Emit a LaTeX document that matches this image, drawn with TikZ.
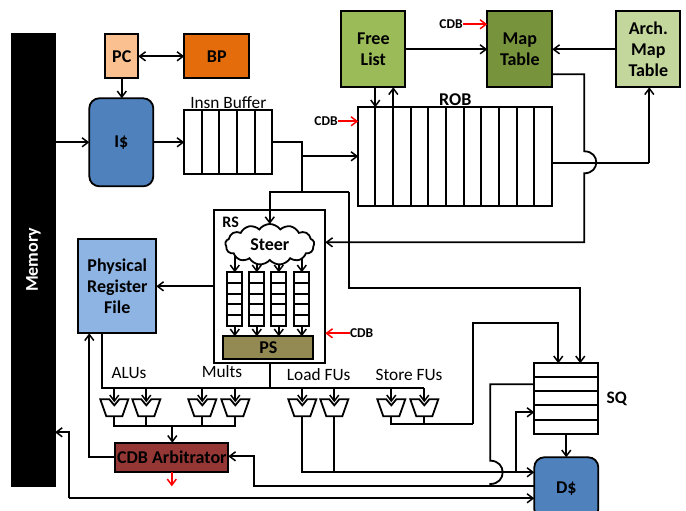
\documentclass[tikz,border=0pt]{standalone}
\usepackage{fontspec}
\setmainfont{Carlito}
\usepackage{tikz}
\usetikzlibrary{positioning,shapes,shapes.symbols,arrows.meta,calc,backgrounds}
\definecolor{pccolor}{HTML}{FAC090}
\definecolor{bpcolor}{HTML}{E46C0A}
\definecolor{cachecolor}{HTML}{4F81BD}
\definecolor{freecolor}{HTML}{9BBB59}
\definecolor{mapcolor}{HTML}{77933C}
\definecolor{archcolor}{HTML}{C3D69B}
\definecolor{pscolor}{HTML}{938953}
\definecolor{prfcolor}{HTML}{8EB4E3}
\definecolor{arbcolor}{HTML}{953735}

\begin{document}
\begin{tikzpicture}[x=1pt, y=-1pt]
\tikzset{
    block/.style={rectangle, draw=black, line width=1.8pt, inner sep=0pt, outer sep=0pt, align=center, font=\fontsize{18}{21}\selectfont\bfseries},
    wire/.style={line width=1.8pt},
    barb/.style={-{Straight Barb[length=6pt,width=9pt,line width=1.5pt]}},
    arrow/.style={wire, barb},
    redarrow/.style={line width=1.8pt, red, barb},
    cell/.style={line width=1.8pt},
    tag/.style={font=\fontsize{13.5}{16}\selectfont\bfseries, inner sep=0pt},
    title/.style={font=\fontsize{17.3}{20}\selectfont, inner sep=0pt},
    fu/.pic={
        \draw[line width=1.8pt, fill=white] (-14,0) -- (-5,0) -- (0,6) -- (5,0) -- (14,0) -- (8,17) -- (-8,17) -- cycle;
        \coordinate (-in) at (0,3);
        \coordinate (-out) at (0,17);
    }
}
\useasboundingbox (0,0) rectangle (686,511);

\node[block, fill=black, text=white, rotate=90, minimum width=452.5pt, minimum height=43pt] (memory) at (33.5,259.75) {Memory};
\node[block, fill=pccolor, minimum width=33pt, minimum height=44pt] (pc) at (121.8,56.3) {PC};
\node[block, fill=bpcolor, minimum width=65pt, minimum height=44pt] (bp) at (216.8,56.3) {BP};
\node[block, fill=cachecolor, rounded corners=10pt, minimum width=64pt, minimum height=88pt] (icache) at (121.3,142.3) {I\$};
\node[block, minimum width=88pt, minimum height=64pt] (buffer) at (228.3,142.3) {};
\node[title, above=1.5pt of buffer] (buffertitle) {Insn Buffer};
\node[block, minimum width=194pt, minimum height=99pt] (rob) at (455.3,156.8) {};
\node[title, font=\fontsize{18}{21}\selectfont\bfseries, above=1pt of rob] (robtitle) {ROB};
\node[block, fill=freecolor, minimum width=64pt, minimum height=76pt] (free) at (373.3,49.3) {Free\\List};
\node[block, fill=mapcolor, minimum width=65pt, minimum height=76pt] (map) at (519.8,49.3) {Map\\Table};
\node[block, fill=archcolor, minimum width=64pt, minimum height=76pt] (arch) at (648.3,49.3) {Arch.\\Map\\Table};
\node[tag] (cdbmap) at (451,24.3) {CDB};
\node[tag] (cdbrob) at (326,121.3) {CDB};
\node[tag] (cdbrs) at (361.7,333.3) {CDB};

\node[block, minimum width=111pt, minimum height=153pt] (rs) at (269.8,286.8) {};
\node[title, font=\fontsize{16}{19}\selectfont\bfseries] (rstitle) at (230.7,222) {RS};
\node[block, cloud, cloud puffs=13, cloud puff arc=110, aspect=2.2, fill=white, minimum width=89pt, minimum height=41pt] (steer) at (269.8,244.5) {Steer};
\foreach \n/\x in {qa/234.8, qb/256.8, qc/278.8, qd/301.8} {
    \node[block, minimum width=15pt, minimum height=54pt] (\n) at (\x,299.3) {};
    \foreach \y in {283.3,294.3,304.3,315.3}
        \draw[cell] (\n.west |- 0,\y) -- (\n.east |- 0,\y);
}
\node[block, fill=pscolor, minimum width=90pt, minimum height=23pt] (ps) at (268.3,347.8) {PS};
\node[block, fill=prfcolor, minimum width=78pt, minimum height=94pt] (prf) at (117.3,286.3) {Physical\\Register\\File};
\node[block, fill=arbcolor, minimum width=113pt, minimum height=29pt] (arbiter) at (171.8,457.3) {CDB Arbitrator};
\node[block, minimum width=64pt, minimum height=71pt] (sq) at (566.3,398.8) {};
\node[title, font=\fontsize{17.5}{20}\selectfont\bfseries, right=8pt of sq] (sqtitle) {SQ};
\node[block, fill=cachecolor, rounded corners=10pt, minimum width=64pt, minimum height=62pt] (dcache) at (566.3,488.3) {D\$};

\node[title] (alutitle) at (129,372.7) {ALUs};
\node[title] (multtitle) at (222,372) {Mults};
\node[title] (loadtitle) at (318.7,374.7) {Load FUs};
\node[title] (storetitle) at (409,374.7) {Store FUs};

\pic (alua) at (114.3,399.3) {fu};
\pic (alub) at (146.3,399.3) {fu};
\pic (mula) at (202.3,399.3) {fu};
\pic (mulb) at (235.3,399.3) {fu};
\pic (loada) at (302.3,399.3) {fu};
\pic (loadb) at (334.3,399.3) {fu};
\pic (storea) at (391.3,399.3) {fu};
\pic (storeb) at (424.3,399.3) {fu};

\foreach \x in {202.3,219.3,237.3,255.3}
    \draw[cell] (\x,0 |- buffer.north) -- (\x,0 |- buffer.south);
\foreach \x in {375.3,393.3,411.3,428.3,446.3,464.3,481.3,499.3,517.3,534.3}
    \draw[cell] (\x,0 |- rob.north) -- (\x,0 |- rob.south);
\foreach \y in {377.3,391.3,405.3,420.3}
    \draw[cell] (sq.west |- 0,\y) -- (sq.east |- 0,\y);

\coordinate (split) at (302.3,156.3);
\coordinate (busup) at (349.3,192.3);
\coordinate (sqbus) at (580.3,288.3);
\coordinate (mapdown) at (584.3,74.3);
\coordinate (robout) at (649.3,163.3);
\coordinate (rsin) at (584.3,242.3);
\coordinate (fubus) at (102.3,388.3);
\coordinate (fubusend) at (424.3,388.3);
\coordinate (alubus) at (172.3,426.3);
\coordinate (storebus) at (473.3,424.3);
\coordinate (storeup) at (558.3,323.3);
\coordinate (loadbus) at (302.3,472.3);
\coordinate (sqout) at (490.3,384.3);
\coordinate (sqback) at (490.3,486.3);
\coordinate (arbin) at (254.3,456.3);
\coordinate (membus) at (69.3,498.3);
\coordinate (memin) at (69.3,432.3);
\coordinate (prfin) at (89.3,457.3);
\coordinate (dctap) at (516.3,472.3);
\coordinate (sqin) at (516.3,412.3);

\draw[arrow] (memory.south |- icache.west) -- (icache.west);
\draw[arrow] (icache.east) -- (buffer.west);
\draw[arrow] (pc.south) -- (pc.south |- icache.north);
\draw[arrow, {Straight Barb[length=6pt,width=9pt,line width=1.5pt]}-{Straight Barb[length=6pt,width=9pt,line width=1.5pt]}] (pc) -- (bp);
\draw[wire] (buffer.east) -| (busup -| split) -- (busup);
\draw[arrow] (split) -- (rob.west |- split);
\draw[arrow] (busup) -| (steer.north);
\draw[arrow] (busup) |- (sqbus) -- (sqbus |- sq.north);
\draw[arrow] (free) -- (map);
\draw[arrow] (arch) -- (map);
\draw[arrow] (free.south -| rob.north west) ++(17,0) -- ++(0,20);
\draw[arrow] (rob.north west) ++(35,0) -- ++(0,-20);
\draw[redarrow] (cdbmap) -- (map.west |- cdbmap);
\draw[redarrow] (cdbrob) -- (rob.west |- cdbrob);
\draw[redarrow] (cdbrs) -- (rs.east |- cdbrs);
\draw[wire] (rob.east |- robout) -- (robout);
\draw[arrow] (robout) -- (arch.south -| robout);
\draw[arrow] (map.east |- mapdown) -- (mapdown) -- (584.3,151.3) .. controls (600.3,151.3) and (600.3,173.3) .. (584.3,173.3) -- (rsin) -- (rs.east |- rsin);
\begin{scope}[on background layer]
\foreach \n in {qa,qb,qc,qd}
    \draw[arrow] (steer.center -| \n.north) -- (\n.north);
\end{scope}
\foreach \n in {qa,qb,qc,qd}
    \draw[arrow] (\n.south) -- (\n.south |- ps.north);
\draw[arrow] (rs.west |- prf.east) -- (prf.east);
\draw[wire] (prf.south -| fubus) -- (fubus) -- (fubusend);
\draw[wire] (rs.south) -- (rs.south |- fubus);
\foreach \n in {alua,alub,mula,mulb,loada,loadb,storea,storeb}
    \draw[arrow] (fubus -| \n-in) -- (\n-in);
\draw[wire] (alua-out) |- (alubus) -| (mulb-out);
\draw[wire] (alub-out) -- (alub-out |- alubus);
\draw[wire] (mula-out) -- (mula-out |- alubus);
\draw[arrow] (alubus) -- (alubus |- arbiter.north);
\draw[arrow] (arbiter.west) -- (prfin) -- (prf.south -| prfin);
\draw[redarrow] (arbiter.south) -- ++(0,14.5);
\draw[wire] (storea-out) |- (storebus);
\draw[wire] (storeb-out) -- (storeb-out |- storebus);
\draw[arrow] (storebus) -- (storebus |- storeup) -- (storeup) -- (storeup |- sq.north);
\draw[arrow] (loada-out) |- (dcache.west |- loadbus);
\draw[wire] (loadb-out) -- (loadb-out |- loadbus);
\draw[arrow] (dctap) -- (sqin) -- (sq.west |- sqin);
\draw[wire] (sq.west |- sqout) -- (sqout) -- (490.3,460.7) .. controls (506.8,460.7) and (506.8,484) .. (490.3,484) -- (sqback);
\draw[arrow] (dcache.west |- sqback) -- (arbin |- sqback) -- (arbin) -- (arbiter.east |- arbin);
\draw[arrow] (memin |- membus) -- (memin) -- (memory.south |- memin);
\draw[arrow] (membus) -- (dcache.west |- membus);
\draw[arrow] (sq) -- (dcache);
\end{tikzpicture}
\end{document}
